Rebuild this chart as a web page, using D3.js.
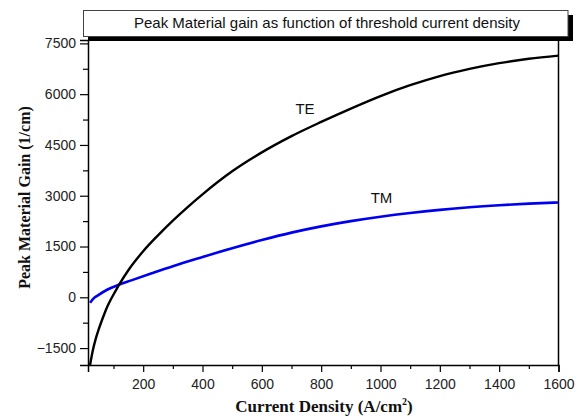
<!DOCTYPE html>
<html>
<head>
<meta charset="utf-8">
<script src="https://cdn.jsdelivr.net/npm/d3@7"></script>
<style>
  body { margin: 0; background: #fff; }
  svg { display: block; }
  .tick text { font-family: "Liberation Sans", Arial, sans-serif; font-size: 14px; fill: #222; }
</style>
</head>
<body>
<svg width="579" height="419"></svg>
<script>
// current density (A/cm^2) vs peak material gain (1/cm)
const teCurrent = [21, 30, 40, 50, 60, 70, 80, 90, 100, 120, 150, 200, 250, 300, 350, 400, 500, 600, 700, 800, 900, 1000, 1100, 1200, 1300, 1400, 1500, 1600];
const teGain = [-2000, -1580, -1230, -950, -700, -470, -260, -80, 80, 390, 800, 1360, 1830, 2265, 2665, 3040, 3720, 4280, 4760, 5180, 5575, 5945, 6265, 6535, 6745, 6915, 7045, 7140];

const tmCurrent = [21, 30, 50, 80, 116, 160, 229, 300, 400, 500, 600, 700, 800, 900, 1000, 1100, 1200, 1300, 1400, 1500, 1600];
const tmGain = [-160, -60, 70, 230, 364, 500, 710, 920, 1190, 1450, 1690, 1910, 2095, 2250, 2380, 2490, 2583, 2660, 2720, 2767, 2800];

const xTicks = [200, 400, 600, 800, 1000, 1200, 1400, 1600];
const xMinor = [100, 300, 500, 700, 900, 1100, 1300, 1500];
const yTicks = [-1500, 0, 1500, 3000, 4500, 6000, 7500];
const yMinor = [-750, 750, 2250, 3750, 5250, 6750];

const svg = d3.select("svg");
const plotL = 88, plotR = 558.5, plotT = 40, plotB = 365;

const x = d3.scaleLinear().domain([14, 1600]).range([plotL, plotR]);
const y = d3.scaleLinear().domain([-2000, 7600]).range([plotB, plotT]);

svg.append("clipPath").attr("id", "clip")
  .append("rect")
  .attr("x", plotL).attr("y", plotT)
  .attr("width", plotR - plotL).attr("height", plotB - plotT);

// frame: top and right sides
svg.append("line").attr("x1", plotL).attr("x2", plotR).attr("y1", plotT).attr("y2", plotT)
  .attr("stroke", "#000").attr("stroke-width", 1.5);
svg.append("line").attr("x1", plotR).attr("x2", plotR).attr("y1", plotT).attr("y2", plotB)
  .attr("stroke", "#000").attr("stroke-width", 1.5);

svg.append("g")
  .attr("transform", `translate(0,${plotB})`)
  .call(d3.axisBottom(x).tickValues(xTicks).tickSize(7).tickPadding(7).tickFormat(d3.format("d")));
svg.append("g")
  .attr("transform", `translate(0,${plotB})`)
  .call(d3.axisBottom(x).tickValues(xMinor).tickSize(4).tickFormat(""))
  .select(".domain").remove();

svg.append("g")
  .attr("transform", `translate(${plotL},0)`)
  .call(d3.axisLeft(y).tickValues(yTicks).tickSize(8).tickPadding(4).tickFormat(d3.format("d")));
svg.append("g")
  .attr("transform", `translate(${plotL},0)`)
  .call(d3.axisLeft(y).tickValues(yMinor).tickSize(5).tickFormat(""))
  .select(".domain").remove();

svg.selectAll(".domain").attr("stroke-width", 1.5);
svg.selectAll(".tick line").attr("stroke-width", 1.2);

const line = d3.line()
  .x(d => x(d[0]))
  .y(d => y(d[1]))
  .curve(d3.curveMonotoneX);

const plot = svg.append("g").attr("clip-path", "url(#clip)");

plot.append("path")
  .datum(tmCurrent.map((c, i) => [c, tmGain[i]]))
  .attr("fill", "none")
  .attr("stroke", "#0000f0")
  .attr("stroke-width", 2.6)
  .attr("d", line);

plot.append("path")
  .datum(teCurrent.map((c, i) => [c, teGain[i]]))
  .attr("fill", "none")
  .attr("stroke", "#000")
  .attr("stroke-width", 2.4)
  .attr("d", line);

svg.append("text")
  .attr("x", 305).attr("y", 114)
  .attr("text-anchor", "middle")
  .attr("font-family", "Liberation Sans, Arial, sans-serif")
  .attr("font-size", 15)
  .attr("fill", "#111")
  .text("TE");

svg.append("text")
  .attr("x", 381.5).attr("y", 203)
  .attr("text-anchor", "middle")
  .attr("font-family", "Liberation Sans, Arial, sans-serif")
  .attr("font-size", 15)
  .attr("fill", "#111")
  .text("TM");

// title box with drop shadow
svg.append("rect")
  .attr("x", 88).attr("y", 15)
  .attr("width", 485).attr("height", 26)
  .attr("fill", "#000");
svg.append("rect")
  .attr("x", 83.5).attr("y", 10.5)
  .attr("width", 484.5).attr("height", 26)
  .attr("fill", "#fff")
  .attr("stroke", "#444")
  .attr("stroke-width", 1);
svg.append("text")
  .attr("x", 327).attr("y", 28)
  .attr("text-anchor", "middle")
  .attr("font-family", "Liberation Sans, Arial, sans-serif")
  .attr("font-size", 15)
  .attr("fill", "#111")
  .text("Peak Material gain as function of threshold current density");

// axis titles
const xTitle = svg.append("text")
  .attr("x", 324).attr("y", 412)
  .attr("text-anchor", "middle")
  .attr("font-family", "Liberation Serif, serif")
  .attr("font-weight", "bold")
  .attr("font-size", 17)
  .attr("fill", "#111");
xTitle.append("tspan").text("Current Density (A/cm");
xTitle.append("tspan").attr("dy", -7).attr("font-size", 10).text("2");
xTitle.append("tspan").attr("dy", 7).text(")");

svg.append("text")
  .attr("transform", "translate(30,197.5) rotate(-90)")
  .attr("text-anchor", "middle")
  .attr("font-family", "Liberation Serif, serif")
  .attr("font-weight", "bold")
  .attr("font-size", 16)
  .attr("fill", "#111")
  .text("Peak Material Gain (1/cm)");
</script>
</body>
</html>
